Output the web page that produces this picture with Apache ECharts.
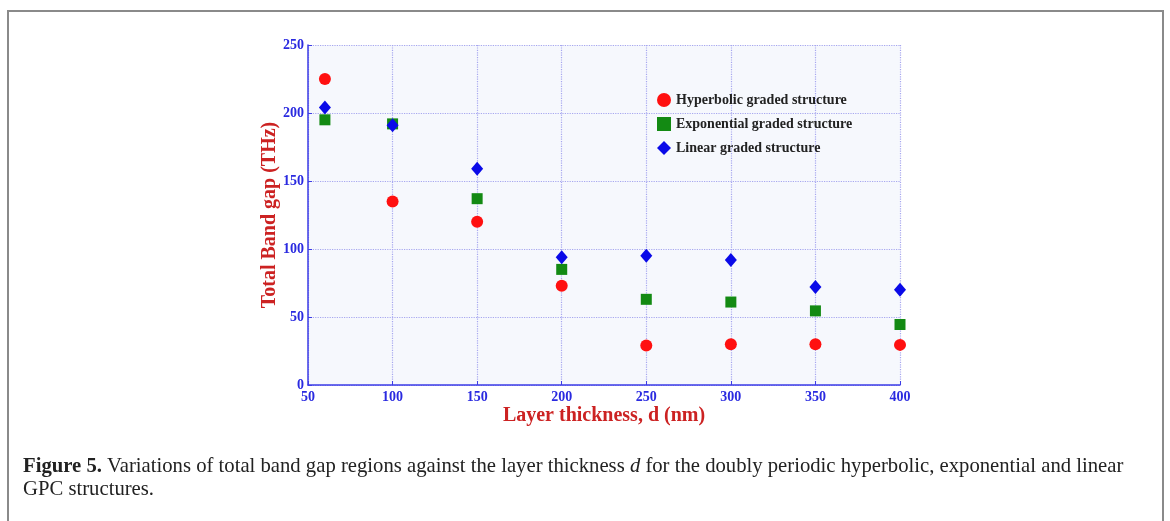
<!DOCTYPE html>
<html>
<head>
<meta charset="utf-8">
<script src="https://cdn.jsdelivr.net/npm/echarts@6/dist/echarts.min.js"></script>
<style>
  html, body { margin: 0; padding: 0; background: #fff; }
  #chart { width: 1170px; height: 521px; }
</style>
</head>
<body>
<div id="chart"></div>
<script>
// layer thickness d (nm)
const thickness = [60, 100, 150, 200, 250, 300, 350, 400];
// total band gap (THz)
const hyperbolic = [225, 135, 120, 73, 29, 30, 30, 29.5];
const exponential = [195, 192, 137, 85, 63, 61, 54.5, 44.5];
const linear = [204, 191, 159, 94, 95, 92, 72, 70];

const seriesNames = ['Hyperbolic graded structure', 'Exponential graded structure', 'Linear graded structure'];

function pairs (ys) {
  return thickness.map((x, i) => [x, ys[i]]);
}

const chart = echarts.init(document.getElementById('chart'));
const serif = '"Liberation Serif", "DejaVu Serif", serif';
const axisBlue = '#3d3de6';

chart.setOption({
  animation: false,
  grid: {
    left: 308,
    top: 45,
    right: 270,
    bottom: 136,
    show: true,
    backgroundColor: '#f6f8fd',
    borderWidth: 0
  },
  legend: {
    orient: 'vertical',
    left: 652,
    top: 88,
    itemGap: 10,
    itemWidth: 14,
    itemHeight: 14,
    data: [
      { name: seriesNames[0], icon: 'circle' },
      { name: seriesNames[1], icon: 'rect' },
      { name: seriesNames[2], icon: 'diamond' }
    ],
    textStyle: {
      fontFamily: serif,
      fontWeight: 'bold',
      fontSize: 14,
      color: '#222'
    }
  },
  xAxis: {
    type: 'value',
    min: 50,
    max: 400,
    interval: 50,
    name: 'Layer thickness, d (nm)',
    nameLocation: 'middle',
    nameGap: 21,
    nameMoveOverlap: false,
    nameTextStyle: { fontFamily: serif, fontWeight: 'bold', fontSize: 20, color: '#cc2222' },
    axisLine: { lineStyle: { color: axisBlue, width: 1.5 } },
    axisTick: { inside: true, length: 4, lineStyle: { color: axisBlue } },
    axisLabel: { margin: 5, fontFamily: serif, fontWeight: 'bold', fontSize: 14, color: '#2a2ae0' },
    splitLine: { show: true, lineStyle: { type: 'dotted', color: '#a7a7ef', width: 1.2 } }
  },
  yAxis: {
    type: 'value',
    min: 0,
    max: 250,
    interval: 50,
    name: 'Total Band gap (THz)',
    nameLocation: 'middle',
    nameRotate: 90,
    nameGap: 28,
    nameMoveOverlap: false,
    nameTextStyle: { fontFamily: serif, fontWeight: 'bold', fontSize: 20, color: '#cc2222' },
    axisLine: { show: true, lineStyle: { color: axisBlue, width: 1.5 } },
    axisTick: { show: true, inside: true, length: 4, lineStyle: { color: axisBlue } },
    axisLabel: { margin: 4, fontFamily: serif, fontWeight: 'bold', fontSize: 14, color: '#2a2ae0' },
    splitLine: { show: true, lineStyle: { type: 'dotted', color: '#a7a7ef', width: 1.2 } }
  },
  series: [
    {
      name: seriesNames[0],
      type: 'scatter',
      symbol: 'circle',
      symbolSize: 12,
      itemStyle: { color: '#ff1010', opacity: 1 },
      data: pairs(hyperbolic)
    },
    {
      name: seriesNames[1],
      type: 'scatter',
      symbol: 'rect',
      symbolSize: 11,
      itemStyle: { color: '#138a13', opacity: 1 },
      data: pairs(exponential)
    },
    {
      name: seriesNames[2],
      type: 'scatter',
      symbol: 'diamond',
      symbolSize: [12, 14],
      itemStyle: { color: '#0a0ae8', opacity: 1 },
      data: pairs(linear)
    }
  ],
  graphic: [
    {
      type: 'rect',
      shape: { x: 8, y: 11, width: 1155, height: 530 },
      style: { fill: 'none', stroke: '#8a8a8a', lineWidth: 2 },
      silent: true
    },
    {
      type: 'text',
      left: 23,
      top: 455,
      style: {
        text: '{b|Figure 5.} Variations of total band gap regions against the layer thickness {i|d} for the doubly periodic hyperbolic, exponential and linear\nGPC structures.',
        font: '20.7px ' + serif,
        fill: '#222',
        lineHeight: 23,
        rich: {
          b: { fontFamily: serif, fontSize: 20.7, fontWeight: 'bold', fill: '#222', lineHeight: 23 },
          i: { fontFamily: serif, fontSize: 20.7, fontStyle: 'italic', fill: '#222', lineHeight: 23 }
        }
      }
    }
  ]
});
</script>
</body>
</html>
